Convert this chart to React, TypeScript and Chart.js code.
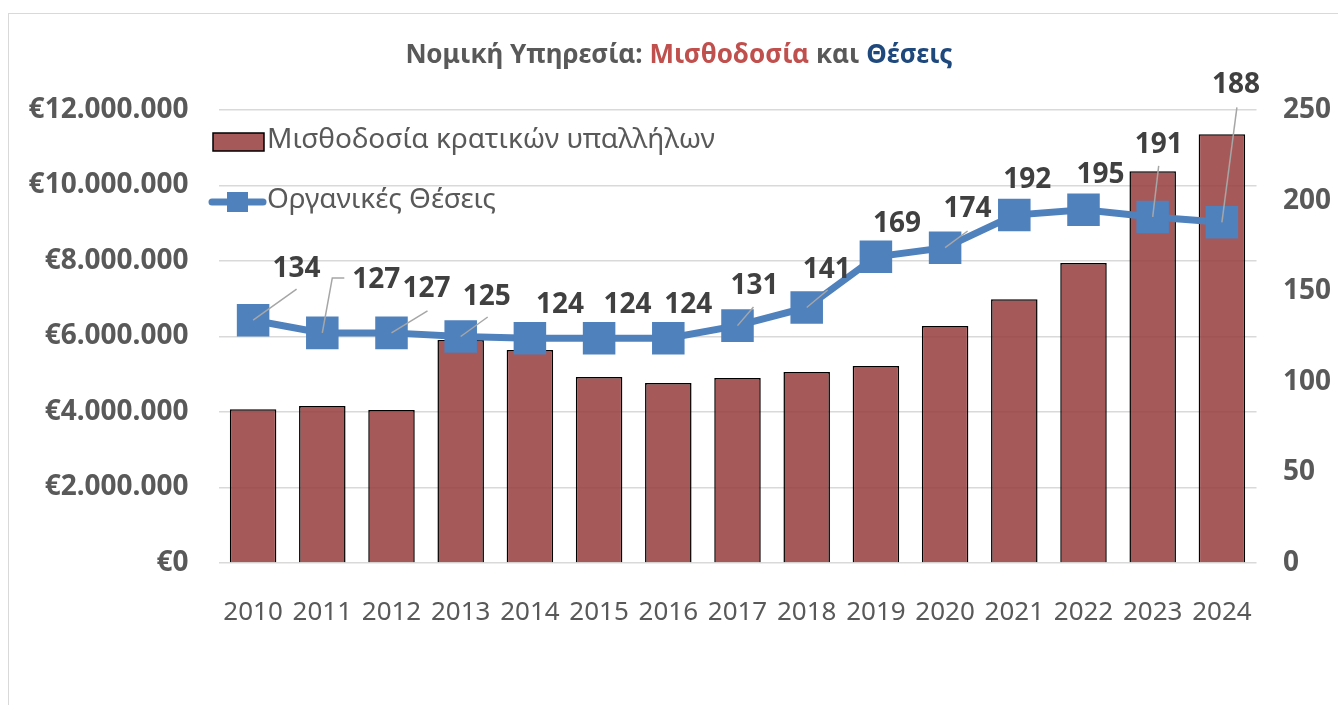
import React, { useEffect, useRef } from 'react';
import { Chart, registerables } from 'chart.js';

Chart.register(...registerables);

const years = ['2010', '2011', '2012', '2013', '2014', '2015', '2016', '2017', '2018', '2019', '2020', '2021', '2022', '2023', '2024'];
const payroll = [4070000, 4160000, 4050000, 5910000, 5640000, 4930000, 4770000, 4900000, 5060000, 5220000, 6280000, 6990000, 7950000, 10380000, 11360000];
const positions = [134, 127, 127, 125, 124, 124, 124, 131, 141, 169, 174, 192, 195, 191, 188];

const payrollLabel = 'Μισθοδοσία κρατικών υπαλλήλων';
const positionsLabel = 'Οργανικές Θέσεις';
const titleParts: [string, string][] = [
  ['Νομική Υπηρεσία: ', '#595959'],
  ['Μισθοδοσία', '#c0504d'],
  [' και ', '#595959'],
  ['Θέσεις', '#1f497d'],
];

// label placement relative to each point (pixels)
const labelOffsets: [number, number][] = [
  [43.5, -53], [54, -55], [35, -46], [26, -42], [30, -35], [28.5, -35], [20, -35],
  [17, -42], [20, -39.5], [21, -35], [22.5, -41], [13, -37], [17, -37], [6, -74], [14, -139],
];
const leaderPaths: ([number, number][] | null)[] = [
  [[43.5, -31]], [[10, -55], [22, -55]], [[36, -22]], [[27, -19.5]], null, null, null,
  [[16, -18.6]], [[21, -17.5]], null, [[22.5, -16.7]], null, null, [[6, -51]], [[15, -115]],
];

const FONT = "'Noto Sans', 'Liberation Sans', sans-serif";
const BAR_FILL = 'rgba(150,60,60,0.85)';
const LINE_COLOR = '#4f81bd';

function euro(v: number): string {
  return '€' + String(Math.round(v)).replace(/\B(?=(\d{3})+(?!\d))/g, '.');
}

const overlayPlugin = {
  id: 'overlay',
  afterDatasetsDraw(chart: any) {
    const ctx = chart.ctx as CanvasRenderingContext2D;
    const meta = chart.getDatasetMeta(1);
    ctx.save();
    // leader lines
    ctx.strokeStyle = '#a6a6a6';
    ctx.lineWidth = 1.5;
    meta.data.forEach((pt: any, i: number) => {
      const path = leaderPaths[i];
      if (!path) return;
      ctx.beginPath();
      ctx.moveTo(pt.x, pt.y);
      path.forEach(([dx, dy]) => ctx.lineTo(pt.x + dx, pt.y + dy));
      ctx.stroke();
    });
    // data labels
    ctx.font = `bold 28px ${FONT}`;
    ctx.fillStyle = '#404040';
    ctx.textAlign = 'center';
    ctx.textBaseline = 'alphabetic';
    meta.data.forEach((pt: any, i: number) => {
      const [dx, dy] = labelOffsets[i];
      ctx.fillText(String(positions[i]), pt.x + dx, pt.y + dy + 10);
    });
    ctx.restore();
  },
  afterDraw(chart: any) {
    const ctx = chart.ctx as CanvasRenderingContext2D;
    ctx.save();
    // title
    ctx.font = `bold 26px ${FONT}`;
    ctx.textBaseline = 'alphabetic';
    ctx.textAlign = 'left';
    const total = titleParts.reduce((s, [t]) => s + ctx.measureText(t).width, 0);
    let x = 679 - total / 2;
    titleParts.forEach(([t, c]) => {
      ctx.fillStyle = c;
      ctx.fillText(t, x, 63);
      x += ctx.measureText(t).width;
    });
    // legend
    ctx.fillStyle = BAR_FILL;
    ctx.fillRect(213, 133, 51, 18);
    ctx.strokeStyle = '#000000';
    ctx.lineWidth = 1.5;
    ctx.strokeRect(213, 133, 51, 18);
    ctx.strokeStyle = LINE_COLOR;
    ctx.lineWidth = 7;
    ctx.lineCap = 'round';
    ctx.beginPath();
    ctx.moveTo(212, 202);
    ctx.lineTo(263, 202);
    ctx.stroke();
    ctx.fillStyle = LINE_COLOR;
    ctx.fillRect(227, 192, 21, 20);
    ctx.font = `28px ${FONT}`;
    ctx.fillStyle = '#595959';
    ctx.textBaseline = 'middle';
    ctx.fillText(payrollLabel, 267, 140);
    ctx.fillText(positionsLabel, 267, 200);
    ctx.restore();
  },
};

export default function App() {
  const canvasRef = useRef<HTMLCanvasElement | null>(null);

  useEffect(() => {
    const canvas = canvasRef.current;
    if (!canvas) return;
    const chart = new Chart(canvas, {
      type: 'bar',
      data: {
        labels: years,
        datasets: [
          {
            type: 'bar',
            label: payrollLabel,
            data: payroll,
            yAxisID: 'y',
            backgroundColor: BAR_FILL,
            borderColor: '#000000',
            borderWidth: 1.5,
            barPercentage: 0.672,
            categoryPercentage: 1,
            order: 2,
          },
          {
            type: 'line',
            label: positionsLabel,
            data: positions,
            yAxisID: 'y1',
            borderColor: LINE_COLOR,
            backgroundColor: LINE_COLOR,
            borderWidth: 7,
            pointStyle: 'rect',
            pointRadius: 23,
            pointBorderWidth: 0,
            pointBackgroundColor: LINE_COLOR,
            tension: 0,
            order: 1,
          },
        ],
      },
      options: {
        responsive: false,
        animation: false,
        devicePixelRatio: 1,
        layout: { padding: { top: 110, left: 0, right: 0, bottom: 0 } },
        plugins: {
          legend: { display: false },
          title: { display: false },
          tooltip: { enabled: false },
        },
        scales: {
          x: {
            grid: { display: false },
            border: { display: false },
            ticks: {
              color: '#595959',
              font: { family: FONT, size: 26 },
              padding: 26,
              maxRotation: 0,
              autoSkip: false,
            },
            afterFit: (s: any) => { s.height = 142; },
          },
          y: {
            position: 'left',
            min: 0,
            max: 12000000,
            grid: { color: '#d9d9d9', lineWidth: 1.5, drawTicks: false },
            border: { display: false },
            ticks: {
              stepSize: 2000000,
              color: '#595959',
              font: { family: FONT, size: 28, weight: 'bold' },
              padding: 30,
              callback: (v: any) => euro(Number(v)),
            },
            afterFit: (s: any) => { s.width = 218.5; },
          },
          y1: {
            position: 'right',
            min: 0,
            max: 250,
            grid: { display: false, drawTicks: false },
            border: { display: false },
            ticks: {
              stepSize: 50,
              color: '#595959',
              font: { family: FONT, size: 28, weight: 'bold' },
              padding: 26.5,
            },
            afterFit: (s: any) => { s.width = 81.5; },
          },
        },
      },
      plugins: [overlayPlugin],
    });
    return () => chart.destroy();
  }, []);

  return (
    <>
      <div
        style={{
          position: 'fixed',
          left: 8,
          top: 13,
          width: 1330,
          height: 692,
          borderLeft: '1.5px solid #d9d9d9',
          borderTop: '1.5px solid #d9d9d9',
          boxSizing: 'border-box',
        }}
      />
      <canvas
        ref={canvasRef}
        width={1338}
        height={705}
        style={{ position: 'fixed', left: 0, top: 0 }}
      />
    </>
  );
}
